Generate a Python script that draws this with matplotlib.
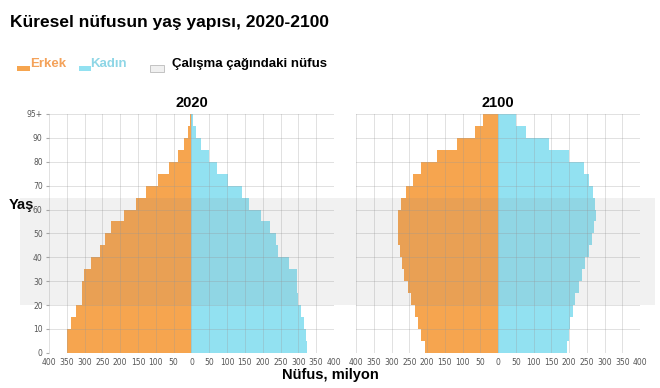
import matplotlib
matplotlib.use("Agg")
import matplotlib.pyplot as plt
from matplotlib.patches import Rectangle
from matplotlib.transforms import blended_transform_factory

# 5-year age groups (start of group), population in millions
age_start = [0, 5, 10, 15, 20, 25, 30, 35, 40, 45, 50, 55, 60, 65, 70, 75, 80, 85, 90, 95]
male_2020 = [350, 348, 337, 323, 308, 306, 303, 281, 257, 243, 225, 190, 157, 129, 94, 62, 38, 20, 10, 4]
female_2020 = [324, 322, 316, 307, 299, 297, 296, 274, 244, 237, 220, 194, 162, 141, 103, 72, 50, 27, 13, 5]
male_2100 = [207, 216, 225, 235, 244, 254, 264, 270, 277, 281, 283, 281, 274, 258, 240, 216, 171, 116, 64, 41]
female_2100 = [195, 199, 204, 211, 218, 227, 236, 245, 255, 264, 271, 276, 274, 267, 257, 243, 199, 145, 80, 52]

years = ["2020", "2100"]
x_ticks = list(range(-400, 401, 50))
y_ticks = [0, 10, 20, 30, 40, 50, 60, 70, 80, 90, 100]
y_labels = ["0", "10", "20", "30", "40", "50", "60", "70", "80", "90", "95+"]
working_age = (20, 65)

ORANGE = "#F6A54F"
BLUE = "#92E1F1"
FONT = ["Liberation Sans", "DejaVu Sans"]

fig = plt.figure(figsize=(6.6, 3.88), dpi=100)
ax1 = fig.add_axes([0.0742, 0.0905, 0.4318, 0.6157])
ax2 = fig.add_axes([0.5394, 0.0905, 0.4303, 0.6157])

data = [(male_2020, female_2020), (male_2100, female_2100)]
for ax, (m, f), yr in zip([ax1, ax2], data, years):
    ax.barh(age_start, [-v for v in m], height=5, align="edge", color=ORANGE, linewidth=0)
    ax.barh(age_start, f, height=5, align="edge", color=BLUE, linewidth=0)
    ax.set_xlim(-400, 400)
    ax.set_ylim(0, 100)
    ax.set_xticks(x_ticks)
    ax.set_xticklabels([str(abs(v)) for v in x_ticks])
    ax.set_yticks(y_ticks)
    ax.set_axisbelow(False)
    ax.grid(True, color="#999999", alpha=0.3, linewidth=0.7)
    for s in ax.spines.values():
        s.set_visible(False)
    ax.tick_params(axis="x", length=0, labelsize=5.5, labelcolor="#555555", pad=4)
    ax.tick_params(axis="y", length=2.5, color="#aaaaaa", labelsize=5.5, labelcolor="#555555", pad=2)
    ax.set_title(yr, fontsize=10.5, fontweight="bold", family=FONT, pad=5)

ax1.set_yticklabels(y_labels)
ax2.set_yticklabels([])
ax2.tick_params(axis="y", length=0)

# working-age band across the whole chart
tr = blended_transform_factory(fig.transFigure, ax1.transData)
band = Rectangle((0.03, working_age[0]), 0.962, working_age[1] - working_age[0],
                 transform=tr, facecolor="#808080", alpha=0.11, linewidth=0, zorder=5)
fig.add_artist(band)

fig.text(0.015, 0.943, "Küresel nüfusun yaş yapısı, 2020-2100", fontsize=12.5,
         fontweight="bold", family=FONT, va="center", ha="left")

# legend row
ly = 0.835
fig.add_artist(Rectangle((0.026, 0.818), 0.02, 0.013, transform=fig.transFigure,
                         facecolor=ORANGE, linewidth=0))
fig.text(0.046, ly, "Erkek", fontsize=9.5, fontweight="bold", family=FONT,
         color="#F4A25A", va="center")
fig.add_artist(Rectangle((0.12, 0.818), 0.018, 0.013, transform=fig.transFigure,
                         facecolor=BLUE, linewidth=0))
fig.text(0.137, ly, "Kadın", fontsize=9.5, fontweight="bold", family=FONT,
         color="#8ED6E6", va="center")
fig.add_artist(Rectangle((0.228, 0.815), 0.02, 0.017, transform=fig.transFigure,
                         facecolor="#f0f0f0", edgecolor="#bbbbbb", linewidth=0.6))
fig.text(0.261, ly, "Çalışma çağındaki nüfus", fontsize=9.5, fontweight="bold",
         family=FONT, va="center")

fig.text(0.013, 0.472, "Yaş", fontsize=10.5, fontweight="bold", family=FONT, va="center")
fig.text(0.5, 0.033, "Nüfus, milyon", fontsize=10.5, fontweight="bold", family=FONT,
         ha="center", va="center")

fig.savefig("out.png", dpi=100)
